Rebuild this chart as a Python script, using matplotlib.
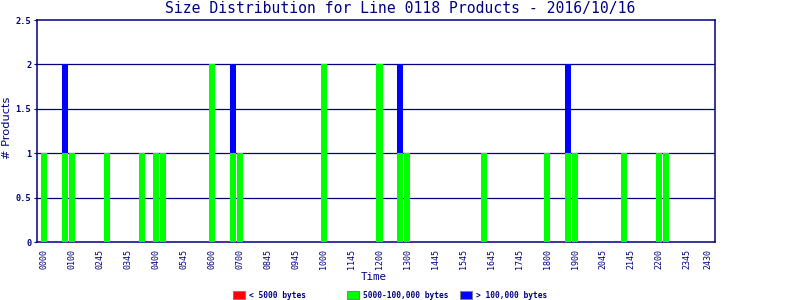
import matplotlib
matplotlib.use("Agg")
import matplotlib.pyplot as plt
from matplotlib.patches import Rectangle
import numpy as np

NAVY = "#000080"
RED = "#FF0000"
GREEN = "#00FF00"
BLUE = "#0000FF"

n_slots = 96
tick_slots = [0, 4, 8, 12, 16, 20, 24, 28, 32, 36, 40, 44, 48, 52, 56, 60,
              64, 68, 72, 76, 80, 84, 88, 92, 95]
tick_labels = ["0000", "0100", "0245", "0345", "0400", "0545", "0600", "0700",
               "0845", "0945", "1000", "1145", "1200", "1300", "1445", "1545",
               "1645", "1745", "1800", "1900", "2045", "2145", "2200", "2345", "2430"]

# slot indices with data
green_slots = [0, 3, 4, 9, 14, 16, 17, 24, 27, 28, 40, 48, 51, 52, 63, 72, 75, 76, 83, 88, 89]
green_vals  = [1, 1, 1, 1, 1, 1, 1, 2, 1, 1, 2, 2, 1, 1, 1, 1, 1, 1, 1, 1, 1]
blue_slots = [3, 27, 51, 75]
blue_vals  = [1, 1, 1, 1]
red_slots = []
red_vals = []

legend_labels = ["< 5000 bytes", "5000-100,000 bytes", "> 100,000 bytes"]
title = "Size Distribution for Line 0118 Products - 2016/10/16"

fig = plt.figure(figsize=(8, 3), dpi=100)
ax = fig.add_axes([37/800, (300-242)/300, (715-37)/800, (242-20)/300])

red = np.zeros(n_slots); green = np.zeros(n_slots); blue = np.zeros(n_slots)
red[red_slots] = red_vals
green[green_slots] = green_vals
blue[blue_slots] = blue_vals
x = np.arange(n_slots)
w = 0.86
ax.bar(x, red, width=w, color=RED, zorder=3, linewidth=0, antialiased=False)
ax.bar(x, green, width=w, bottom=red, color=GREEN, zorder=3, linewidth=0, antialiased=False)
ax.bar(x, blue, width=w, bottom=red + green, color=BLUE, zorder=3, linewidth=0, antialiased=False)

ax.set_xlim(-0.95, 95.95)
ax.set_ylim(0, 2.5)
ax.set_yticks([0, 0.5, 1, 1.5, 2, 2.5])
ax.set_yticklabels(["0", "0.5", "1", "1.5", "2", "2.5"], family="DejaVu Sans Mono",
                   fontsize=6.2, fontweight="bold", color=NAVY)
ax.set_xticks(tick_slots)
ax.set_xticklabels(tick_labels, rotation=90, family="DejaVu Sans Mono",
                   fontsize=6.0, color=NAVY)
ax.tick_params(axis="x", length=0, pad=5)
ax.tick_params(axis="y", length=2, width=0.8, color=NAVY, pad=2)
for y in [0.5, 1, 1.5, 2]:
    ax.axhline(y, color=NAVY, linewidth=0.9, zorder=1)
for s in ax.spines.values():
    s.set_color(NAVY)
    s.set_linewidth(1.1)

fig.text(400/800, 1 - 9/300, title, ha="center", va="center",
         family="DejaVu Sans Mono", fontsize=10.6, color=NAVY)
fig.text(374/800, 1 - 277/300, "Time", ha="center", va="center",
         family="DejaVu Sans Mono", fontsize=7.8, color=NAVY)
fig.text(7/800, 1 - 128/300, "# Products", ha="center", va="center",
         rotation=90, family="DejaVu Sans", fontsize=8.2, color=NAVY)

# legend
leg_x = [233, 347, 460]
leg_cols = [RED, GREEN, BLUE]
for lx, c, lab in zip(leg_x, leg_cols, legend_labels):
    fig.patches.append(Rectangle((lx/800, 1 - 299/300), 12/800, 8/300,
                                 transform=fig.transFigure, facecolor=c,
                                 edgecolor="#808080", linewidth=0.8))
    fig.text((lx + 16)/800, 1 - 295.5/300, lab, ha="left", va="center",
             family="DejaVu Sans Mono", fontsize=5.7, fontweight="bold", color=NAVY)

fig.savefig("out.png", dpi=100)
